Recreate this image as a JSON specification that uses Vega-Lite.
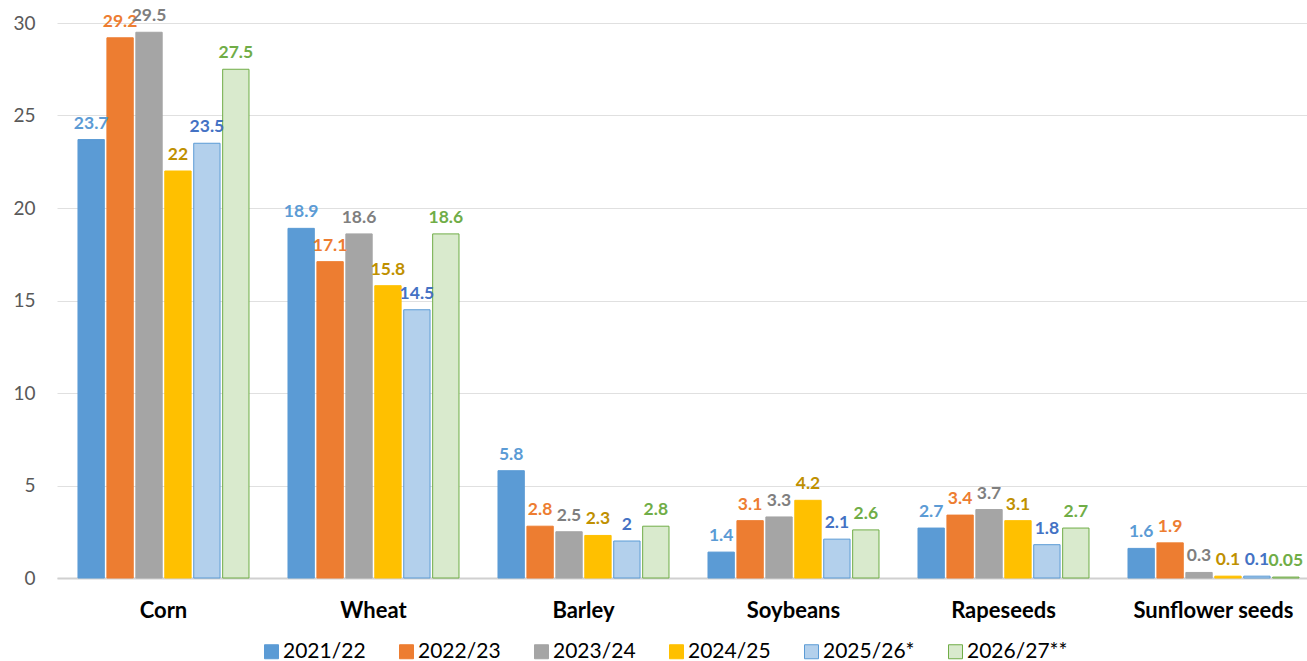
{
  "$schema": "https://vega.github.io/schema/vega-lite/v6.json",
  "width": 1250,
  "height": 555,
  "autosize": {"type": "none"},
  "padding": {"left": 57, "top": 23, "right": 0, "bottom": 83},
  "background": "white",
  "config": {
    "font": "Lato",
    "view": {"stroke": null}
  },
  "data": {
    "values": [
      {"crop": "Corn", "season": "2021/22", "value": 23.7},
      {"crop": "Corn", "season": "2022/23", "value": 29.2},
      {"crop": "Corn", "season": "2023/24", "value": 29.5},
      {"crop": "Corn", "season": "2024/25", "value": 22},
      {"crop": "Corn", "season": "2025/26*", "value": 23.5},
      {"crop": "Corn", "season": "2026/27**", "value": 27.5},
      {"crop": "Wheat", "season": "2021/22", "value": 18.9},
      {"crop": "Wheat", "season": "2022/23", "value": 17.1},
      {"crop": "Wheat", "season": "2023/24", "value": 18.6},
      {"crop": "Wheat", "season": "2024/25", "value": 15.8},
      {"crop": "Wheat", "season": "2025/26*", "value": 14.5},
      {"crop": "Wheat", "season": "2026/27**", "value": 18.6},
      {"crop": "Barley", "season": "2021/22", "value": 5.8},
      {"crop": "Barley", "season": "2022/23", "value": 2.8},
      {"crop": "Barley", "season": "2023/24", "value": 2.5},
      {"crop": "Barley", "season": "2024/25", "value": 2.3},
      {"crop": "Barley", "season": "2025/26*", "value": 2},
      {"crop": "Barley", "season": "2026/27**", "value": 2.8},
      {"crop": "Soybeans", "season": "2021/22", "value": 1.4},
      {"crop": "Soybeans", "season": "2022/23", "value": 3.1},
      {"crop": "Soybeans", "season": "2023/24", "value": 3.3},
      {"crop": "Soybeans", "season": "2024/25", "value": 4.2},
      {"crop": "Soybeans", "season": "2025/26*", "value": 2.1},
      {"crop": "Soybeans", "season": "2026/27**", "value": 2.6},
      {"crop": "Rapeseeds", "season": "2021/22", "value": 2.7},
      {"crop": "Rapeseeds", "season": "2022/23", "value": 3.4},
      {"crop": "Rapeseeds", "season": "2023/24", "value": 3.7},
      {"crop": "Rapeseeds", "season": "2024/25", "value": 3.1},
      {"crop": "Rapeseeds", "season": "2025/26*", "value": 1.8},
      {"crop": "Rapeseeds", "season": "2026/27**", "value": 2.7},
      {"crop": "Sunflower seeds", "season": "2021/22", "value": 1.6},
      {"crop": "Sunflower seeds", "season": "2022/23", "value": 1.9},
      {"crop": "Sunflower seeds", "season": "2023/24", "value": 0.3},
      {"crop": "Sunflower seeds", "season": "2024/25", "value": 0.1},
      {"crop": "Sunflower seeds", "season": "2025/26*", "value": 0.1},
      {"crop": "Sunflower seeds", "season": "2026/27**", "value": 0.05}
    ]
  },
  "encoding": {
    "x": {
      "field": "crop",
      "type": "nominal",
      "sort": null,
      "title": null,
      "scale": {"paddingInner": 0.1857, "paddingOuter": 0.069, "align": 0.724},
      "axis": {
        "labelAngle": 0,
        "labelFontSize": 22,
        "labelFontWeight": "bold",
        "labelColor": "#000000",
        "labelPadding": 22,
        "ticks": false,
        "domainColor": "#d0d0d0",
        "domainWidth": 2,
        "grid": false
      }
    },
    "xOffset": {
      "field": "season",
      "type": "nominal",
      "sort": null,
      "scale": {"paddingInner": 0.09, "paddingOuter": 0}
    },
    "y": {
      "field": "value",
      "type": "quantitative",
      "title": null,
      "scale": {"domain": [0, 30], "nice": false},
      "axis": {
        "values": [0, 5, 10, 15, 20, 25, 30],
        "labelFontSize": 19,
        "labelColor": "#595959",
        "labelPadding": 22,
        "ticks": false,
        "domain": false,
        "grid": true,
        "gridColor": "#e0e0e0",
        "gridWidth": 1
      }
    }
  },
  "layer": [
    {
      "mark": {"type": "bar", "strokeWidth": 1},
      "encoding": {
        "fill": {
          "field": "season",
          "type": "nominal",
          "sort": null,
          "scale": {
            "domain": ["2021/22", "2022/23", "2023/24", "2024/25", "2025/26*", "2026/27**"],
            "range": ["#5b9bd5", "#ed7d31", "#a5a5a5", "#ffc000", "#b3d0ec", "#d9eacd"]
          },
          "legend": {
            "title": null,
            "orient": "none",
            "direction": "horizontal",
            "columns": 6,
            "legendX": 204,
            "legendY": 618,
            "labelFontSize": 21,
            "labelColor": "#000000",
            "labelOffset": 1,
            "columnPadding": 30,
            "symbolType": "square",
            "symbolSize": 196,
            "symbolStrokeWidth": 1
          }
        },
        "stroke": {
          "field": "season",
          "type": "nominal",
          "sort": null,
          "scale": {
            "domain": ["2021/22", "2022/23", "2023/24", "2024/25", "2025/26*", "2026/27**"],
            "range": ["#5b9bd5", "#ed7d31", "#a5a5a5", "#ffc000", "#5b9bd5", "#70ad47"]
          },
          "legend": {
            "title": null,
            "orient": "none",
            "direction": "horizontal",
            "columns": 6,
            "legendX": 204,
            "legendY": 618,
            "labelFontSize": 21,
            "labelColor": "#000000",
            "labelOffset": 1,
            "columnPadding": 30,
            "symbolType": "square",
            "symbolSize": 196,
            "symbolStrokeWidth": 1
          }
        }
      }
    },
    {
      "mark": {"type": "text", "fontSize": 17.5, "fontWeight": "bold", "baseline": "middle", "dy": -16},
      "encoding": {
        "text": {"field": "value", "type": "quantitative"},
        "color": {
          "field": "season",
          "type": "nominal",
          "sort": null,
          "scale": {
            "domain": ["2021/22", "2022/23", "2023/24", "2024/25", "2025/26*", "2026/27**"],
            "range": ["#5b9bd5", "#ed7d31", "#7f7f7f", "#bf9000", "#4472c4", "#70ad47"]
          },
          "legend": null
        }
      }
    }
  ]
}
